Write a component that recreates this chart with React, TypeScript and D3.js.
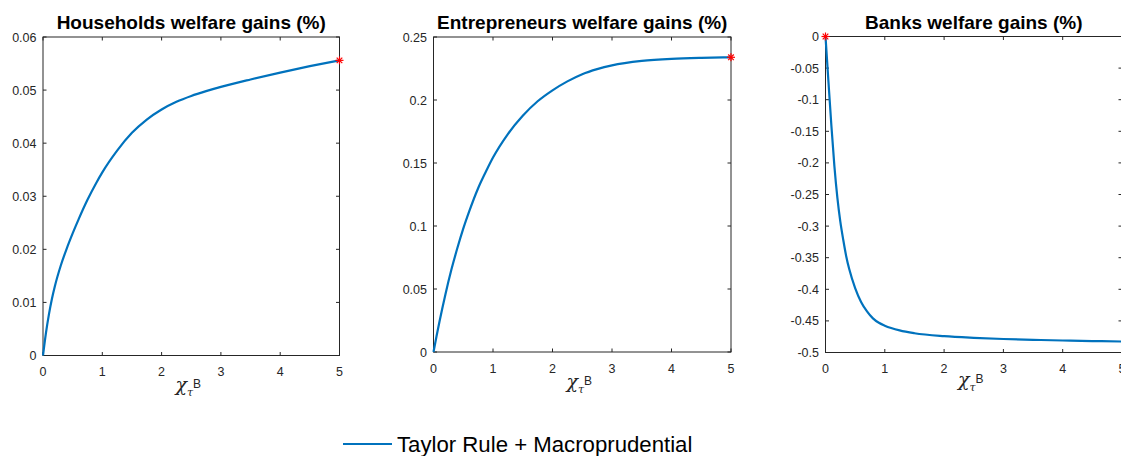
import * as d3 from 'd3';

// chi_tau^B grid and welfare gains (%)
const xTicks = [0, 1, 2, 3, 4, 5];

const householdsChi = [0, 0.05, 0.1, 0.15, 0.2, 0.3, 0.4, 0.5, 0.6, 0.75, 0.9, 1, 1.25, 1.5, 1.75, 2, 2.25, 2.5, 2.75, 3, 3.5, 4, 4.5, 5];
const householdsGain = [0, 0.00425, 0.00775, 0.01065, 0.01305, 0.01695, 0.02015, 0.023, 0.02565, 0.02933, 0.03255, 0.0345, 0.0386, 0.04195, 0.04445, 0.04635, 0.0478, 0.0489, 0.0498, 0.0506, 0.052, 0.0533, 0.0545, 0.0556];
const householdsTicks = [0, 0.01, 0.02, 0.03, 0.04, 0.05, 0.06];

const entrepreneursChi = [0, 0.05, 0.1, 0.2, 0.3, 0.4, 0.5, 0.6, 0.75, 0.9, 1, 1.25, 1.5, 1.75, 2, 2.25, 2.5, 2.75, 3, 3.5, 4, 4.5, 5];
const entrepreneursGain = [0, 0.0123, 0.024, 0.0457, 0.0652, 0.0823, 0.0979, 0.1116, 0.13, 0.145, 0.1543, 0.173, 0.1875, 0.199, 0.2077, 0.2148, 0.2205, 0.2245, 0.2275, 0.231, 0.2327, 0.2335, 0.2339];
const entrepreneursTicks = [0, 0.05, 0.1, 0.15, 0.2, 0.25];

const banksChi = [0, 0.05, 0.1, 0.15, 0.2, 0.25, 0.3, 0.35, 0.4, 0.5, 0.6, 0.7, 0.8, 0.9, 1, 1.25, 1.5, 2, 2.5, 3, 3.5, 4, 4.5, 5];
const banksGain = [0, -0.072, -0.142, -0.205, -0.255, -0.293, -0.322, -0.348, -0.368, -0.398, -0.42, -0.435, -0.446, -0.453, -0.4575, -0.465, -0.4695, -0.4742, -0.4768, -0.4786, -0.4799, -0.481, -0.4819, -0.4826];
const banksTicks = [-0.5, -0.45, -0.4, -0.35, -0.3, -0.25, -0.2, -0.15, -0.1, -0.05, 0];

const titles = ['Households welfare gains (%)', 'Entrepreneurs welfare gains (%)', 'Banks welfare gains (%)'];
const legendLabel = 'Taylor Rule + Macroprudential';

const W = 1121
	, H = 456
	, font = '"Liberation Sans", Arial, Helvetica, sans-serif'
	, axisColor = '#262626'
	, lineColor = '#0072BD'
	, tickLen = 3.5
	;

// panel boxes as laid out in the figure (the last one runs past the right edge)
const boxes = [
	{left: 43, right: 339.5, top: 37, bottom: 355.5, labelY: 391}
	, {left: 433.5, right: 731, top: 37, bottom: 352, labelY: 388}
	, {left: 825.5, right: 1122, top: 36.5, bottom: 352.5, labelY: 386}
];

const fmt = (v: number)=>String(+v.toFixed(2));

function Panel({box, title, chi, gain, yTicks}: any){
	const x = d3.scaleLinear().domain(d3.extent(xTicks) as [number, number]).range([box.left, box.right])
		, y = d3.scaleLinear().domain(d3.extent(yTicks) as [number, number]).range([box.bottom, box.top])
		, line = d3.line<number>().x((d, i)=>x(chi[i])).y((d)=>y(d)).curve(d3.curveMonotoneX)
		, best = d3.maxIndex(gain)
		, sx = x(chi[best])
		, sy = y(gain[best])
		, cx = (box.left + box.right) /2
		, r = 4
		;

	return (<g>
		<text x={cx} y={28.5} textAnchor="middle" fontFamily={font} fontWeight="bold" fontSize={19} fill="#000">{title}</text>

		{/* frame */}
		<rect x={box.left} y={box.top} width={box.right - box.left} height={box.bottom - box.top} fill="none" stroke={axisColor} strokeWidth={1}/>

		{xTicks.map((t)=>(<g key={'x' + t}>
			<line x1={x(t)} x2={x(t)} y1={box.bottom} y2={box.bottom - tickLen} stroke={axisColor}/>
			<line x1={x(t)} x2={x(t)} y1={box.top} y2={box.top + tickLen} stroke={axisColor}/>
			<text x={x(t)} y={box.bottom + 20.5} textAnchor="middle" fontFamily={font} fontSize={12.5} fill={axisColor}>{fmt(t)}</text>
		</g>))}

		{yTicks.map((t: number)=>(<g key={'y' + t}>
			<line x1={box.left} x2={box.left + tickLen} y1={y(t)} y2={y(t)} stroke={axisColor}/>
			<line x1={box.right} x2={box.right - tickLen} y1={y(t)} y2={y(t)} stroke={axisColor}/>
			<text x={box.left - 6.5} y={y(t) + 4.5} textAnchor="end" fontFamily={font} fontSize={12.5} fill={axisColor}>{fmt(t)}</text>
		</g>))}

		<text x={cx - 3} y={box.labelY} textAnchor="middle" fill={axisColor}>
			<tspan fontFamily='"DejaVu Serif", serif' fontStyle="italic" fontSize={19}>χ</tspan>
			<tspan fontFamily='"DejaVu Serif", serif' fontStyle="italic" fontSize={11} dy={5}>τ</tspan>
			<tspan fontFamily={font} fontSize={12} dy={-8.5}>B</tspan>
		</text>

		<path d={line(gain) || ''} fill="none" stroke={lineColor} strokeWidth={2.2} strokeLinejoin="round"/>

		{/* optimum marker */}
		<g stroke="#ff0000" strokeWidth={1.2}>
			<line x1={sx - r} x2={sx + r} y1={sy} y2={sy}/>
			<line x1={sx} x2={sx} y1={sy - r} y2={sy + r}/>
			<line x1={sx - r *0.7} x2={sx + r *0.7} y1={sy - r *0.7} y2={sy + r *0.7}/>
			<line x1={sx - r *0.7} x2={sx + r *0.7} y1={sy + r *0.7} y2={sy - r *0.7}/>
		</g>
	</g>);
}

export default function App(){
	const series = [
		{chi: householdsChi, gain: householdsGain, ticks: householdsTicks}
		, {chi: entrepreneursChi, gain: entrepreneursGain, ticks: entrepreneursTicks}
		, {chi: banksChi, gain: banksGain, ticks: banksTicks}
	];

	return (<svg width={W} height={H} style={{position: 'absolute', left: 0, top: 0, display: 'block', background: '#fff'}}>
		<rect width={W} height={H} fill="#fff"/>
		{series.map((s, i)=>(<Panel key={i}
		                            box={boxes[i]}
		                            title={titles[i]}
		                            chi={s.chi}
		                            gain={s.gain}
		                            yTicks={s.ticks}/>))}

		<line x1={343} x2={392} y1={444} y2={444} stroke={lineColor} strokeWidth={2.2}/>
		<text x={397} y={452} fontFamily={font} fontSize={22.2} fill="#000">{legendLabel}</text>
	</svg>);
}
